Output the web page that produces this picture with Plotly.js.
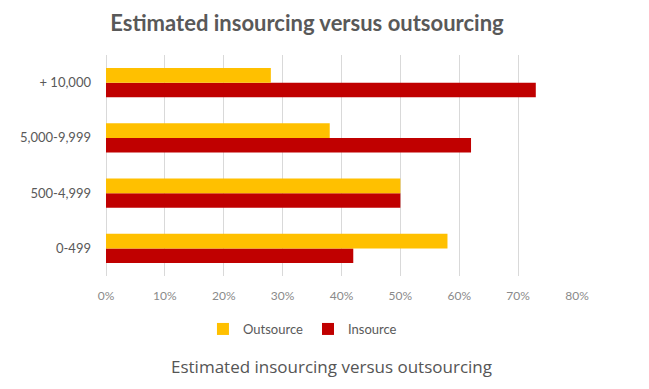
<!DOCTYPE html>
<html>
<head>
<meta charset="utf-8">
<script src="https://cdn.plot.ly/plotly-3.0.1.min.js"></script>
<style>html,body{margin:0;padding:0;background:#fff;}#chart{width:649px;height:389px;}</style>
</head>
<body>
<div id="chart"></div>
<script>
const categories = ['0-499', '500-4,999', '5,000-9,999', '+ 10,000'];
const outsource = [0.58, 0.50, 0.38, 0.28];
const insource = [0.42, 0.50, 0.62, 0.73];
const xTickVals = [0, 0.1, 0.2, 0.3, 0.4, 0.5, 0.6, 0.7, 0.8];
const chartTitle = 'Estimated insourcing versus outsourcing';
const captionText = 'Estimated insourcing versus outsourcing';

const W = 649, H = 389;
const plotL = 105.5, plotR = 576.6, plotT = 55, plotB = 276;
const pw = plotR - plotL, ph = plotB - plotT;

const traces = [
  {type: 'bar', orientation: 'h', name: 'Insource', y: categories, x: insource,
   marker: {color: '#C00000'}, legendrank: 2, hoverinfo: 'x+y'},
  {type: 'bar', orientation: 'h', name: 'Outsource', y: categories, x: outsource,
   marker: {color: '#FFC000'}, legendrank: 1, hoverinfo: 'x+y'}
];

const layout = {
  width: W, height: H,
  paper_bgcolor: '#fff', plot_bgcolor: '#fff',
  margin: {l: plotL, r: W - plotR, t: plotT, b: H - plotB, pad: 0},
  barmode: 'group', bargap: 0.47, bargroupgap: 0,
  font: {family: 'Lato, "Open Sans", sans-serif', color: '#595959', size: 12},
  title: {text: chartTitle, x: 307 / W, xanchor: 'center', xref: 'container',
          y: 1 - 23 / H, yanchor: 'middle', yref: 'container',
          font: {family: 'Lato, sans-serif', size: 22, color: '#595959', weight: 'bold'}},
  xaxis: {range: [0, 0.8], tickvals: xTickVals, tickformat: '.0%',
          showgrid: true, gridcolor: '#d9d9d9', gridwidth: 1,
          zeroline: true, zerolinecolor: '#d9d9d9', zerolinewidth: 1,
          showline: false, ticks: '', ticklabelstandoff: 11,
          tickfont: {size: 12, color: '#8a8a8a'}, fixedrange: true},
  yaxis: {type: 'category', categoryorder: 'array', categoryarray: categories,
          showgrid: false, zeroline: false, showline: false, ticks: '',
          ticklabelstandoff: 14, tickfont: {size: 13, color: '#595959'}, fixedrange: true},
  showlegend: true,
  legend: {orientation: 'h', x: (302 - plotL) / pw, xanchor: 'center',
           y: (plotB - 329) / ph, yanchor: 'middle',
           font: {size: 13, color: '#595959'}, itemwidth: 30, traceorder: 'normal'},
  annotations: [{text: captionText, xref: 'paper', yref: 'paper',
                 x: (331 - plotL) / pw, y: (plotB - 366) / ph, xanchor: 'center', yanchor: 'middle',
                 showarrow: false, font: {family: '"Open Sans", sans-serif', size: 17, color: '#555555'}}]
};

Plotly.newPlot('chart', traces, layout, {displayModeBar: false, staticPlot: true});
</script>
</body>
</html>
